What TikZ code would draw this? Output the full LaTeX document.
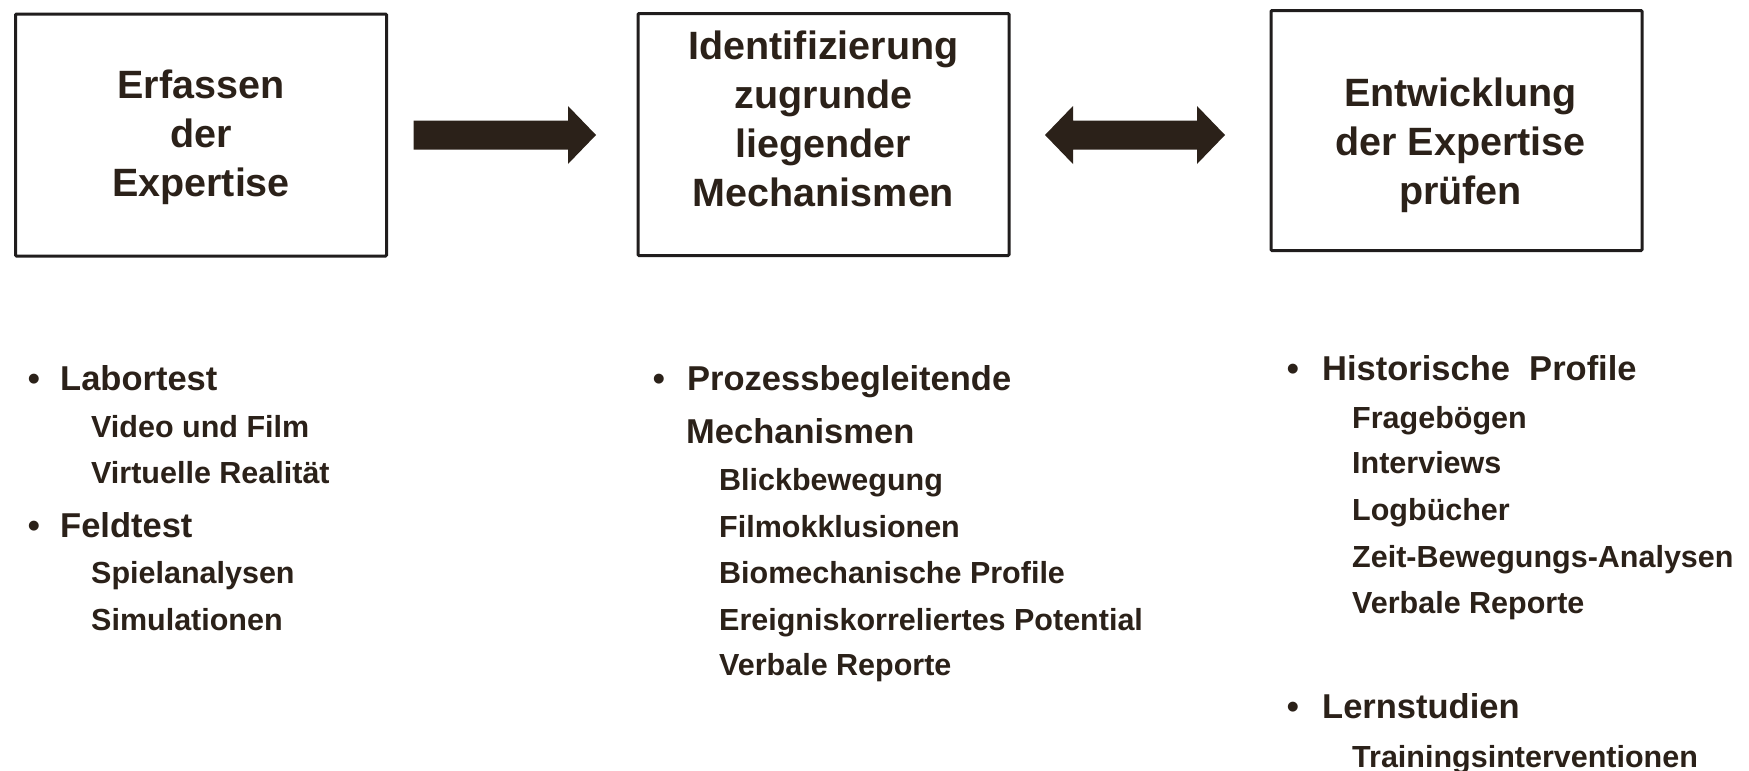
\documentclass[tikz,border=0pt]{standalone}
\usepackage{fontspec}
\setmainfont{Liberation Sans}
\usetikzlibrary{calc}
\definecolor{ink}{RGB}{43,33,25}
\definecolor{framec}{RGB}{32,29,29}
\begin{document}
\begin{tikzpicture}[x=1pt,y=-1pt,
  box/.style={draw=framec,line width=3pt,minimum width=371pt,minimum height=242pt,inner sep=0pt,rounded corners=1pt},
  title/.style={anchor=base,inner sep=0pt,text=ink,font=\fontsize{39.5}{49}\selectfont\bfseries},
  mainitem/.style={anchor=base west,inner sep=0pt,text=ink,font=\fontsize{34.5}{41}\selectfont\bfseries},
  subitem/.style={anchor=base west,inner sep=0pt,text=ink,font=\fontsize{30.5}{37}\selectfont\bfseries},
  bul/.style={anchor=base,inner sep=0pt,text=ink,font=\fontsize{34.5}{41}\selectfont\bfseries},
  blockarrow/.style={fill=ink,draw=none}]
\useasboundingbox (0,0) rectangle (1749,771);
\setlength{\tabcolsep}{0pt}

% boxes
\node[box] (b1) at (201,135) {};
\node[box] (b2) at (823.5,134.5) {};
\node[box,minimum height=240pt] (b3) at (1456.5,130.5) {};

% box titles
\node[title] (t1) at ($(b1.north)+(0,85.5)$) {\begin{tabular}[t]{c}Erfassen\\der\\Expertise\end{tabular}};
\node[title] (t2) at ($(b2.north)+(0,47.5)$) {\begin{tabular}[t]{c}Identifizierung\\zugrunde\\liegender\\Mechanismen\end{tabular}};
\node[title] (t3) at ($(b3.north)+(4,97.5)$) {\begin{tabular}[t]{c}Entwicklung\\der Expertise\\prüfen\end{tabular}};

% arrow b1 -> b2
\coordinate (a1s) at ($(b1.east)+(25.5,0)$);
\coordinate (a1t) at ($(b2.west |- b1.east)+(-40.5,0)$);
\fill[blockarrow] ($(a1s)+(0,-14.5)$) -- ($(a1t)+(-28,-14.5)$) -- ($(a1t)+(-28,-29)$) -- (a1t)
  -- ($(a1t)+(-28,29)$) -- ($(a1t)+(-28,14.5)$) -- ($(a1s)+(0,14.5)$) -- cycle;

% double arrow b2 <-> b3
\coordinate (a2l) at ($(b2.east |- b1.east)+(34.5,0)$);
\coordinate (a2r) at ($(b3.west |- b1.east)+(-44.5,0)$);
\fill[blockarrow] (a2l) -- ($(a2l)+(28,-29)$) -- ($(a2l)+(28,-14.5)$) -- ($(a2r)+(-28,-14.5)$)
  -- ($(a2r)+(-28,-29)$) -- (a2r) -- ($(a2r)+(-28,29)$) -- ($(a2r)+(-28,14.5)$)
  -- ($(a2l)+(28,14.5)$) -- ($(a2l)+(28,29)$) -- cycle;

% left list
\node[bul] (l1b) at (34,390) {•};
\node[mainitem] (l1) at (60,390) {Labortest};
\node[subitem] (l1a) at (91,437) {Video und Film};
\node[subitem] (l1c) at (91,483) {Virtuelle Realität};
\node[bul] (l2b) at (34,537) {•};
\node[mainitem] (l2) at (60,537) {Feldtest};
\node[subitem] (l2a) at (91,583) {Spielanalysen};
\node[subitem] (l2c) at (91,630) {Simulationen};

% middle list
\node[bul] (m1b) at (659,390) {•};
\node[mainitem] (m1) at (687,390) {Prozessbegleitende};
\node[mainitem] (m1x) at (686,443) {Mechanismen};
\node[subitem] (m1a) at (719,490) {Blickbewegung};
\node[subitem] (m1c) at (719,537) {Filmokklusionen};
\node[subitem] (m1d) at (719,583) {Biomechanische Profile};
\node[subitem] (m1e) at (719,630) {Ereigniskorreliertes Potential};
\node[subitem] (m1f) at (719,675) {Verbale Reporte};

% right list
\node[bul] (r1b) at (1293,380) {•};
\node[mainitem] (r1) at (1322,380) {Historische\ \ Profile};
\node[subitem] (r1a) at (1352,428) {Fragebögen};
\node[subitem] (r1c) at (1352,473) {Interviews};
\node[subitem] (r1d) at (1352,520) {Logbücher};
\node[subitem] (r1e) at (1352,567) {Zeit-Bewegungs-Analysen};
\node[subitem] (r1f) at (1352,613) {Verbale Reporte};
\node[bul] (r2b) at (1293,718) {•};
\node[mainitem] (r2) at (1322,718) {Lernstudien};
\node[subitem] (r2a) at (1352,767) {Trainingsinterventionen};
\end{tikzpicture}
\end{document}
